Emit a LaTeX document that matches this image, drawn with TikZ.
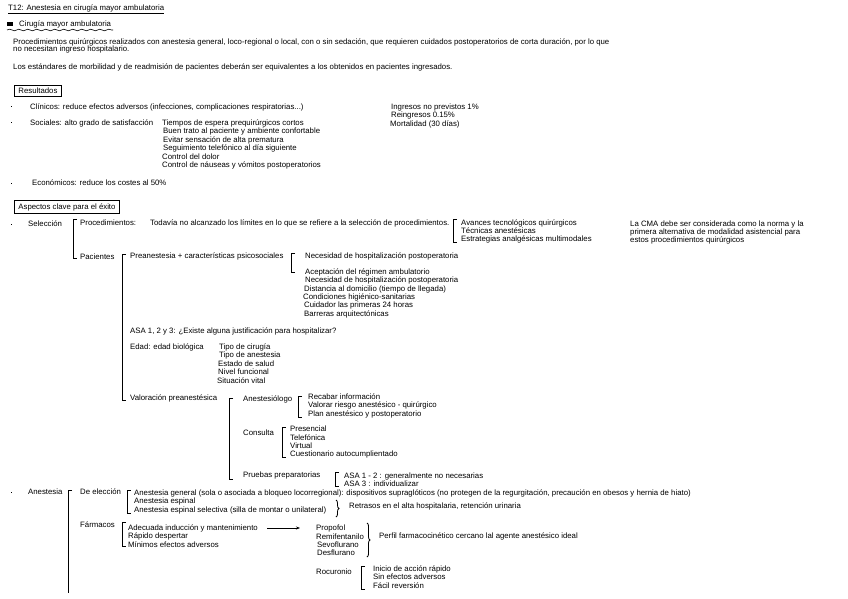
\documentclass[tikz,border=0pt]{standalone}
\usepackage{fontspec}
\setmainfont{Liberation Sans}
\usetikzlibrary{decorations.pathmorphing,decorations.pathreplacing,arrows.meta}
\newcommand\fs{\fontsize{7.8}{8}\selectfont}
\newcommand\lbrk[3]{\draw[brk] (#1+4,#2) -- (#1,#2) -- (#1,#3) -- (#1+4,#3);}
\begin{document}
\begin{tikzpicture}[x=1pt,y=-1pt,
  txt/.style={anchor=west,inner sep=0pt,font=\fs},
  brk/.style={line width=0.8pt},
  boxlbl/.style={txt,draw,line width=0.8pt,inner xsep=4pt,inner ysep=2.5pt},
  bul/.style={fill=black},
  arr/.style={-{Stealth[length=4pt,width=3pt]},line width=0.6pt}]
\useasboundingbox[fill=white] (0,0) rectangle (848,599);

% header
\node[txt] (title) at (8,8) {T12: Anestesia en cirugía mayor ambulatoria};
\draw[line width=0.5pt] ([yshift=-1.5pt]title.south west) -- ([yshift=-1.5pt]title.south east);
\fill (7,22.5) rectangle (13,26);
\node[txt] (cma) at (19,24) {Cirugía mayor ambulatoria};
\draw[line width=0.6pt,decorate,decoration={snake,amplitude=0.8pt,segment length=9pt}] (7,30) -- (113,30);

\node[txt] (p1) at (13,42) {Procedimientos quirúrgicos realizados con anestesia general, loco-regional o local, con o sin sedación, que requieren cuidados postoperatorios de corta duración, por lo que};
\node[txt] (p2) at (13,49.5) {no necesitan ingreso hospitalario.};
\node[txt] (p3) at (13,67) {Los estándares de morbilidad y de readmisión de pacientes deberán ser equivalentes a los obtenidos en pacientes ingresados.};

% Resultados
\node[boxlbl] (res) at (14,91) {Resultados};
\fill (10.5,106) rectangle (12,107.5);
\node[txt] (clin) at (30,107) {Clínicos: reduce efectos adversos (infecciones, complicaciones respiratorias...)};
\fill (10.5,122) rectangle (12,123.5);
\node[txt] (soc) at (30,123) {Sociales: alto grado de satisfacción};
\node[txt] (s1) at (162,123) {Tiempos de espera prequirúrgicos cortos};
\node[txt] (s2) at (163,131.5) {Buen trato al paciente y ambiente confortable};
\node[txt] (s3) at (163,140) {Evitar sensación de alta prematura};
\node[txt] (s4) at (163,148.5) {Seguimiento telefónico al día siguiente};
\node[txt] (s5) at (162,157) {Control del dolor};
\node[txt] (s6) at (162,165.5) {Control de náuseas y vómitos postoperatorios};
\fill (10.5,182.5) rectangle (12,184);
\node[txt] (eco) at (32,183) {Económicos: reduce los costes al 50\%};
\node[txt] (r1) at (391,107) {Ingresos no previstos 1\%};
\node[txt] (r2) at (391,115.5) {Reingresos 0.15\%};
\node[txt] (r3) at (390,124) {Mortalidad (30 días)};

% Aspectos clave
\node[boxlbl] (asp) at (14,207) {Aspectos clave para el éxito};
\fill (10.5,223.5) rectangle (12,225);
\node[txt] (sel) at (28,224) {Selección};
\lbrk{73}{219}{258}
\node[txt] (proc) at (80,223) {Procedimientos:};
\node[txt] (todav) at (150,223) {Todavía no alcanzado los límites en lo que se refiere a la selección de procedimientos.};
\lbrk{453}{219}{242}
\node[txt] (a1) at (461,223) {Avances tecnológicos quirúrgicos};
\node[txt] (a2) at (461,231) {Técnicas anestésicas};
\node[txt] (a3) at (461,239) {Estrategias analgésicas multimodales};
\node[txt] (cm1) at (630,224) {La CMA debe ser considerada como la norma y la};
\node[txt] (cm2) at (630,232) {primera alternativa de modalidad asistencial para};
\node[txt] (cm3) at (630,240) {estos procedimientos quirúrgicos};

\node[txt] (pac) at (80,257) {Pacientes};
\lbrk{122}{254}{400}
\node[txt] (prea) at (130,256) {Preanestesia + características psicosociales};
\lbrk{291}{253}{272}
\node[txt] (n0) at (305,256) {Necesidad de hospitalización postoperatoria};
\node[txt] (n1) at (305,272) {Aceptación del régimen ambulatorio};
\node[txt] (n2) at (305,280.5) {Necesidad de hospitalización postoperatoria};
\node[txt] (n3) at (304,289) {Distancia al domicilio (tiempo de llegada)};
\node[txt] (n4) at (303,297) {Condiciones higiénico-sanitarias};
\node[txt] (n5) at (304,305.5) {Cuidador las primeras 24 horas};
\node[txt] (n6) at (304,314) {Barreras arquitectónicas};
\node[txt] (asa) at (130,331) {ASA 1, 2 y 3: ¿Existe alguna justificación para hospitalizar?};
\node[txt] (edad) at (130,347) {Edad: edad biológica};
\node[txt] (e1) at (219,347) {Tipo de cirugía};
\node[txt] (e2) at (219,355.5) {Tipo de anestesia};
\node[txt] (e3) at (218,364) {Estado de salud};
\node[txt] (e4) at (218,372) {Nivel funcional};
\node[txt] (e5) at (217,380.5) {Situación vital};
\node[txt] (val) at (130,398) {Valoración preanestésica};
\lbrk{229}{398}{479}
\node[txt] (anes) at (243,399) {Anestesiólogo};
\lbrk{298}{396}{417}
\node[txt] (v1) at (308,397) {Recabar información};
\node[txt] (v2) at (308,405.5) {Valorar riesgo anestésico - quirúrgico};
\node[txt] (v3) at (308,414) {Plan anestésico y postoperatorio};
\node[txt] (cons) at (243,433) {Consulta};
\lbrk{282}{427}{457}
\node[txt] (c1) at (290,429) {Presencial};
\node[txt] (c2) at (290,437.5) {Telefónica};
\node[txt] (c3) at (290,446) {Virtual};
\node[txt] (c4) at (290,454) {Cuestionario autocumplientado};
\node[txt] (prue) at (243,475) {Pruebas preparatorias};
\lbrk{335}{472}{486}
\node[txt] (pr1) at (344,476) {ASA 1 - 2 : generalmente no necesarias};
\node[txt] (pr2) at (344,484) {ASA 3 : individualizar};

% Anestesia
\fill (10.5,491.5) rectangle (12,493);
\node[txt] (anest) at (28,492) {Anestesia};
\draw[brk] (72,490) -- (68,490) -- (68,593);
\node[txt] (deel) at (80,492) {De elección};
\lbrk{127}{490}{513}
\node[txt] (d1) at (134,493) {Anestesia general (sola o asociada a bloqueo locorregional): dispositivos supraglóticos (no protegen de la regurgitación, precaución en obesos y hernia de hiato)};
\node[txt] (d2) at (134,501.5) {Anestesia espinal};
\node[txt] (d3) at (134,510) {Anestesia espinal selectiva (silla de montar o unilateral)};
\draw[brk,decorate,decoration={brace,amplitude=3pt}] (336,500) -- (336,517);
\node[txt] (retr) at (349,506) {Retrasos en el alta hospitalaria, retención urinaria};
\node[txt] (farm) at (80,525) {Fármacos};
\lbrk{122}{522}{546}
\node[txt] (f1) at (128,528) {Adecuada inducción y mantenimiento};
\node[txt] (f2) at (128,536.5) {Rápido despertar};
\node[txt] (f3) at (128,545) {Mínimos efectos adversos};
\node[txt] (g1) at (316,528) {Propofol};
\node[txt] (g2) at (316,536.5) {Remifentanilo};
\node[txt] (g3) at (317,545) {Sevoflurano};
\node[txt] (g4) at (317,553) {Desflurano};
\draw[arr] (f1.east -| 267,0) -- (g1.west -| 300,0);
\draw[brk,decorate,decoration={brace,amplitude=3pt}] (367,523) -- (367,557);
\node[txt] (perf) at (379,536) {Perfil farmacocinético cercano lal agente anestésico ideal};
\node[txt] (roc) at (316,572) {Rocuronio};
\lbrk{361}{566}{589}
\node[txt] (h1) at (373,569) {Inicio de acción rápido};
\node[txt] (h2) at (373,577) {Sin efectos adversos};
\node[txt] (h3) at (373,585.5) {Fácil reversión};
\end{tikzpicture}
\end{document}
